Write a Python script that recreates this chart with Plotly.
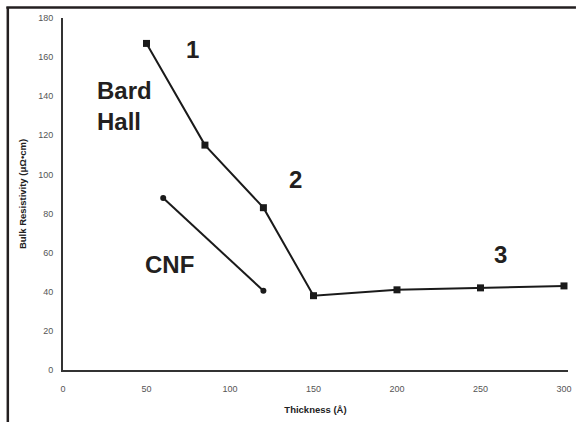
import plotly.graph_objects as go

# Data
bard_x = [50, 85, 120, 150, 200, 250, 300]
bard_y = [167, 115, 83, 38, 41, 42, 43]
cnf_x = [60, 120]
cnf_y = [88, 40.5]

x_ticks = [0, 50, 100, 150, 200, 250, 300]
y_ticks = [0, 20, 40, 60, 80, 100, 120, 140, 160, 180]

labels = ["1", "Bard<br>Hall", "2", "CNF", "3"]
label_x = [77.4, 19.0, 139.3, 63.7, 261.9]
label_y = [164.1, 135.0, 97.6, 54.2, 59.3]
label_anchor = ["center", "left", "center", "center", "center"]

W, H = 579, 422
L, R, T, B = 63, 8, 18, 52

fig = go.Figure()
fig.add_trace(go.Scatter(
    x=bard_x, y=bard_y, mode="lines+markers",
    line=dict(color="#1a1a1a", width=2),
    marker=dict(symbol="square", size=7, color="#1a1a1a"),
    showlegend=False))
fig.add_trace(go.Scatter(
    x=cnf_x, y=cnf_y, mode="lines+markers",
    line=dict(color="#1a1a1a", width=2),
    marker=dict(symbol="circle", size=6, color="#1a1a1a"),
    showlegend=False))

for t, x, y, a in zip(labels, label_x, label_y, label_anchor):
    fig.add_annotation(x=x, y=y, text=t, showarrow=False, xanchor=a, yanchor="middle",
                       align="left",
                       font=dict(family="Liberation Sans", size=24, color="#231f20", weight="bold"))

pw = W - L - R
ph = H - T - B
def px(xp):
    return (xp - L) / pw
def py(yp):
    return (H - B - yp) / ph

frame = dict(color="#231f20", width=2.5)
fig.add_shape(type="line", xref="paper", yref="paper", x0=px(6), x1=px(579), y0=py(7.5), y1=py(7.5), line=frame)
fig.add_shape(type="line", xref="paper", yref="paper", x0=px(7.5), x1=px(7.5), y0=py(7), y1=py(422), line=frame)

fig.update_layout(
    width=W, height=H,
    margin=dict(l=L, r=R, t=T, b=B),
    paper_bgcolor="white", plot_bgcolor="white",
    font=dict(family="Liberation Sans", color="#444"),
    xaxis=dict(range=[0, 302.4], tickvals=x_ticks, showgrid=False, zeroline=False,
               showline=True, linecolor="#333", linewidth=2, ticks="",
               ticklabelstandoff=9,
               tickfont=dict(size=9, color="#555"),
               title=dict(text="Thickness (Å)", font=dict(size=9.5, color="#222", weight="bold"), standoff=14)),
    yaxis=dict(range=[0, 180], tickvals=y_ticks, showgrid=False, zeroline=False,
               showline=True, linecolor="#333", linewidth=2, ticks="",
               ticklabelstandoff=6,
               tickfont=dict(size=9, color="#555"),
               title=dict(text="Bulk Resistivity (μΩ•cm)", font=dict(size=9.5, color="#222", weight="bold"), standoff=10)),
)

fig.write_html("out.html", config={"displayModeBar": False},
               post_script="document.body.style.margin='0';")
